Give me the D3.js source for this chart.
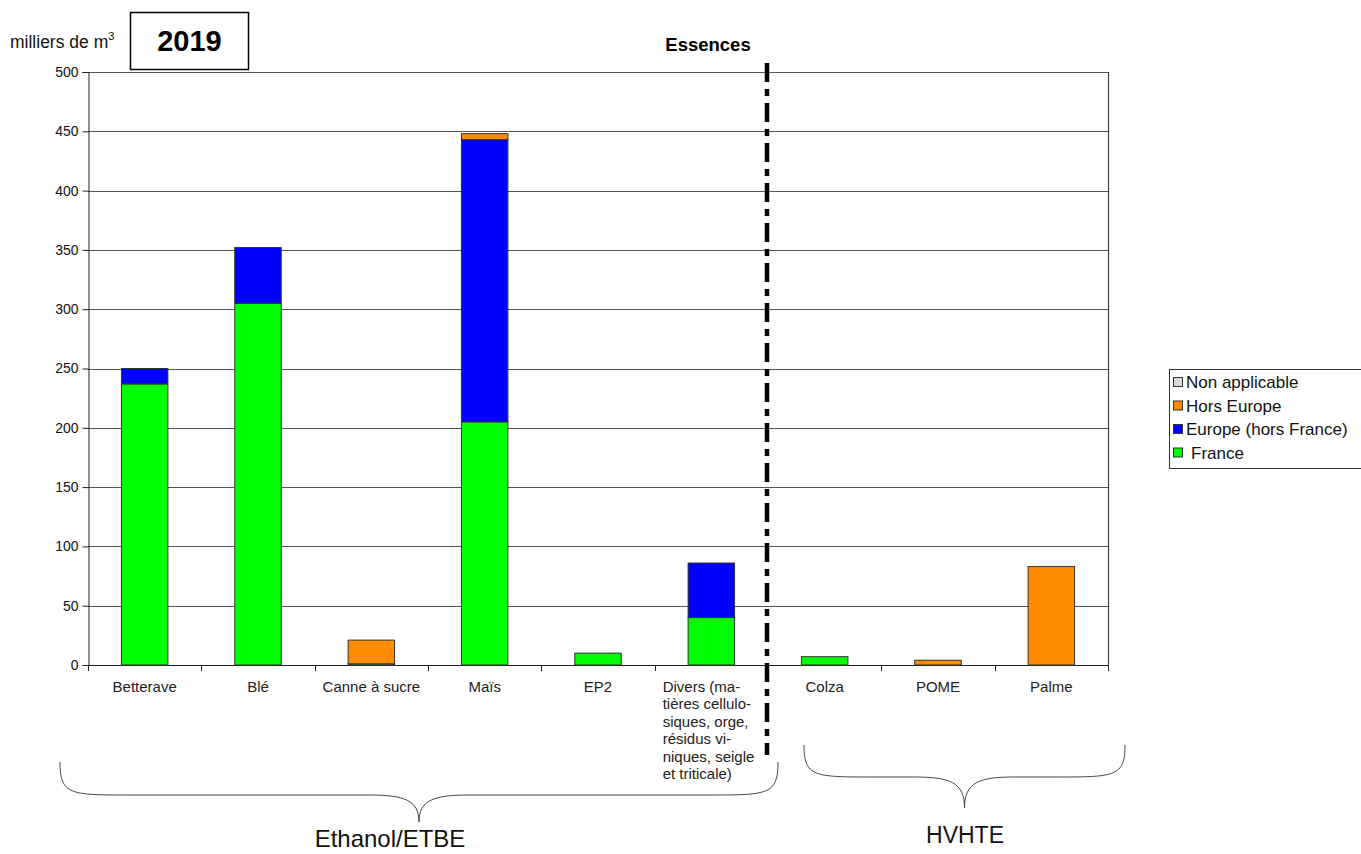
<!DOCTYPE html>
<html>
<head>
<meta charset="utf-8">
<script src="https://cdn.jsdelivr.net/npm/d3@7"></script>
<style>
  html, body { margin: 0; padding: 0; background: #fff; }
  svg { display: block; font-family: "Liberation Sans", Arial, sans-serif; }
</style>
</head>
<body>
<svg id="chart" width="1361" height="854"></svg>
<script>
// Volumes par matière première et origine (milliers de m³), 2019
const categories = ["Betterave", "Blé", "Canne à sucre", "Maïs", "EP2", "Divers", "Colza", "POME", "Palme"];
const france        = [237, 305, 1, 205, 10, 40, 7, 0, 0];
const europe        = [13, 47, 0, 238, 0, 46, 0, 0, 0];
const horsEurope    = [0, 0, 20, 5, 0, 0, 0, 4, 83];
const nonApplicable = [0, 0, 0, 0, 0, 0, 0, 0, 0];
const yTicks = [0, 50, 100, 150, 200, 250, 300, 350, 400, 450, 500];
const diversLines = ["Divers (ma-", "tières cellulo-", "siques, orge,", "résidus vi-", "niques, seigle", "et triticale)"];

const seriesKeys = ["France", "Europe (hors France)", "Hors Europe", "Non applicable"];
const seriesColors = ["#00ff00", "#0000ff", "#ff8c00", "#d9d9d9"];
const legendOrder = ["Non applicable", "Hors Europe", "Europe (hors France)", "France"];

const rows = categories.map((c, i) => ({
  cat: c,
  "France": france[i],
  "Europe (hors France)": europe[i],
  "Hors Europe": horsEurope[i],
  "Non applicable": nonApplicable[i]
}));

const svg = d3.select("#chart");
const plotLeft = 88, plotRight = 1108, plotTop = 72, plotBottom = 665;

const x = d3.scaleBand().domain(categories).range([plotLeft, plotRight]);
const y = d3.scaleLinear().domain([0, 500]).range([plotBottom, plotTop]);
const color = d3.scaleOrdinal().domain(seriesKeys).range(seriesColors);

// horizontal gridlines
svg.append("g").selectAll("line").data(yTicks.filter(d => d > 0)).join("line")
  .attr("x1", plotLeft).attr("x2", plotRight)
  .attr("y1", d => Math.round(y(d)) + 0.5).attr("y2", d => Math.round(y(d)) + 0.5)
  .attr("stroke", "#555").attr("stroke-width", 1.2);

// right border of plot
svg.append("line")
  .attr("x1", plotRight + 0.5).attr("x2", plotRight + 0.5)
  .attr("y1", y(500)).attr("y2", y(0))
  .attr("stroke", "#444").attr("stroke-width", 1.2);

// y axis
const yAxis = svg.append("g")
  .attr("transform", `translate(${plotLeft + 0.5},0)`)
  .call(d3.axisLeft(y).tickValues(yTicks).tickSize(6).tickPadding(4));
yAxis.select(".domain").attr("stroke", "#222");
yAxis.selectAll(".tick line").attr("stroke", "#222");
yAxis.selectAll(".tick text")
  .attr("font-family", "Liberation Sans, Arial, sans-serif")
  .attr("font-size", 14).attr("fill", "#111");

// x axis: tick marks at band boundaries
svg.append("line")
  .attr("x1", plotLeft).attr("x2", plotRight)
  .attr("y1", plotBottom + 0.5).attr("y2", plotBottom + 0.5)
  .attr("stroke", "#222").attr("stroke-width", 1.2);
const bounds = categories.map(c => x(c)).concat([plotRight]);
svg.append("g").selectAll("line").data(bounds).join("line")
  .attr("x1", d => Math.round(d) + 0.5).attr("x2", d => Math.round(d) + 0.5)
  .attr("y1", plotBottom).attr("y2", plotBottom + 6)
  .attr("stroke", "#222").attr("stroke-width", 1);

// stacked bars
const stack = d3.stack().keys(seriesKeys)(rows);
const barW = x.bandwidth() * 0.41;
svg.append("g").selectAll("g").data(stack).join("g")
  .attr("fill", d => color(d.key))
  .selectAll("rect").data(d => d.filter(p => p[1] - p[0] > 0)).join("rect")
  .attr("x", d => x(d.data.cat) + (x.bandwidth() - barW) / 2)
  .attr("width", barW)
  .attr("y", d => y(d[1]))
  .attr("height", d => y(d[0]) - y(d[1]))
  .attr("stroke", "#333").attr("stroke-width", 1);

// category labels
svg.append("g").selectAll("text").data(categories.filter(c => c !== "Divers")).join("text")
  .attr("x", d => x(d) + x.bandwidth() / 2)
  .attr("y", 692)
  .attr("text-anchor", "middle")
  .attr("font-size", 15).attr("fill", "#222")
  .text(d => d);
svg.append("text")
  .attr("x", x("Divers") + 8).attr("y", 692)
  .attr("font-size", 15).attr("fill", "#222")
  .selectAll("tspan").data(diversLines).join("tspan")
  .attr("x", x("Divers") + 8)
  .attr("dy", (d, i) => i === 0 ? 0 : 17.4)
  .text(d => d);

// separator between Ethanol/ETBE and HVHTE
const sepX = x("Colza") - 1;
svg.append("line")
  .attr("x1", sepX).attr("x2", sepX)
  .attr("y1", 63).attr("y2", 755)
  .attr("stroke", "#000").attr("stroke-width", 4.5)
  .attr("stroke-dasharray", "19 7 7 7");

// headings
svg.append("text").attr("x", 10).attr("y", 48)
  .attr("font-size", 17.5).attr("fill", "#111")
  .text("milliers de m").append("tspan")
  .attr("font-size", 11).attr("dy", -8).text("3");
svg.append("rect").attr("x", 130.5).attr("y", 12.5).attr("width", 118).attr("height", 57)
  .attr("fill", "#fff").attr("stroke", "#000").attr("stroke-width", 1.5);
svg.append("text").attr("x", 189.5).attr("y", 51)
  .attr("text-anchor", "middle").attr("font-size", 29).attr("font-weight", "bold")
  .text("2019");
svg.append("text").attr("x", 708).attr("y", 51)
  .attr("text-anchor", "middle").attr("font-size", 18.5).attr("font-weight", "bold")
  .text("Essences");

// braces grouping the feedstocks
function brace(x0, x1, yTop, yMid, yTip) {
  const xm = (x0 + x1) / 2;
  const r = 70;
  return `M${x0},${yTop} C${x0},${yMid} ${x0 + 10},${yMid} ${x0 + r},${yMid}` +
         ` L${xm - 50},${yMid} C${xm - 15},${yMid} ${xm},${yMid + 5} ${xm},${yTip}` +
         ` C${xm},${yMid + 5} ${xm + 15},${yMid} ${xm + 50},${yMid}` +
         ` L${x1 - r},${yMid} C${x1 - 10},${yMid} ${x1},${yMid} ${x1},${yTop}`;
}
svg.append("path").attr("d", brace(60, 778, 762, 795, 822))
  .attr("fill", "none").attr("stroke", "#444").attr("stroke-width", 1);
svg.append("path").attr("d", brace(804, 1125, 745, 777, 808))
  .attr("fill", "none").attr("stroke", "#444").attr("stroke-width", 1);
svg.append("text").attr("x", 390).attr("y", 847)
  .attr("text-anchor", "middle").attr("font-size", 24).attr("fill", "#111")
  .text("Ethanol/ETBE");
svg.append("text").attr("x", 965).attr("y", 843)
  .attr("text-anchor", "middle").attr("font-size", 23).attr("fill", "#111")
  .text("HVHTE");

// legend
const lg = svg.append("g").attr("transform", "translate(1169,369)");
lg.append("rect").attr("x", 0.5).attr("y", 0.5).attr("width", 200).attr("height", 99)
  .attr("fill", "#fff").attr("stroke", "#333").attr("stroke-width", 1);
const items = lg.selectAll("g.item").data(legendOrder).join("g")
  .attr("transform", (d, i) => `translate(4,${13 + i * 23.5})`);
items.append("rect").attr("x", 0.5).attr("y", -4.5).attr("width", 9).attr("height", 9)
  .attr("fill", d => color(d)).attr("stroke", "#333").attr("stroke-width", 1);
items.append("text").attr("x", d => d === "France" ? 18 : 13).attr("y", 6)
  .attr("font-size", 17).attr("fill", "#111")
  .text(d => d);
</script>
</body>
</html>
